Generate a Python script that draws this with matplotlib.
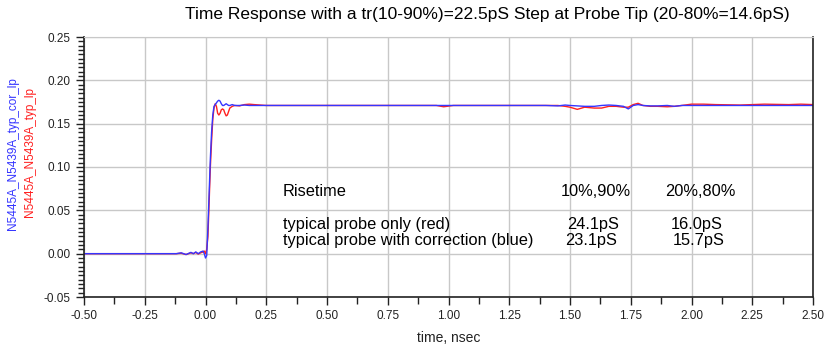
import matplotlib
matplotlib.use('Agg')
import matplotlib.pyplot as plt
from matplotlib.ticker import MultipleLocator

# time axis (nsec) shared by both traces
t_ns = [-0.50, -0.20, -0.12, -0.10, -0.08, -0.06, -0.05, -0.04, -0.03, -0.02, -0.01, -0.005,
        0.0, 0.005, 0.01, 0.015, 0.02, 0.025, 0.03, 0.035, 0.04, 0.045, 0.05, 0.055, 0.06,
        0.065, 0.07, 0.075, 0.08, 0.085, 0.09, 0.095, 0.10, 0.11, 0.12, 0.14, 0.16, 0.18,
        0.20, 0.25, 0.30, 0.60, 0.95, 0.98, 1.02, 1.05, 1.40, 1.45, 1.48, 1.50, 1.53, 1.56,
        1.60, 1.63, 1.66, 1.69, 1.72, 1.74, 1.76, 1.78, 1.80, 1.83, 1.86, 1.90, 1.93, 1.96,
        2.00, 2.05, 2.10, 2.20, 2.30, 2.40, 2.45, 2.50]

# N5445A_N5439A_typ_lp (red)
typ_lp = [0.0, 0.0, 0.0, 0.0005, -0.001, 0.001, 0.0, 0.0015, -0.0005, 0.001, 0.002, 0.003,
          0.0, 0.005, 0.02, 0.06, 0.10, 0.13, 0.155, 0.168, 0.173, 0.170, 0.162, 0.160, 0.162,
          0.166, 0.167, 0.166, 0.162, 0.159, 0.160, 0.164, 0.168, 0.170, 0.171, 0.1705, 0.172, 0.1725,
          0.172, 0.171, 0.171, 0.171, 0.171, 0.1695, 0.171, 0.171, 0.171, 0.171, 0.170, 0.169,
          0.1665, 0.169, 0.168, 0.168, 0.170, 0.170, 0.169, 0.169, 0.172, 0.1735, 0.171, 0.170,
          0.170, 0.1695, 0.170, 0.171, 0.1725, 0.1725, 0.172, 0.1715, 0.1725, 0.172, 0.1725, 0.172]

# N5445A_N5439A_typ_cor_lp (blue)
typ_cor_lp = [0.0, 0.0, 0.0, 0.001, -0.001, 0.0015, 0.0, 0.002, 0.0, 0.002, 0.003, 0.0,
              -0.005, -0.002, 0.03, 0.07, 0.11, 0.14, 0.16, 0.17, 0.172, 0.174, 0.176, 0.177, 0.176,
              0.173, 0.171, 0.171, 0.172, 0.173, 0.172, 0.171, 0.171, 0.172, 0.171, 0.171, 0.1715, 0.171,
              0.171, 0.171, 0.171, 0.171, 0.171, 0.171, 0.171, 0.171, 0.171, 0.1705, 0.1715, 0.171,
              0.1705, 0.170, 0.170, 0.171, 0.1715, 0.171, 0.170, 0.167, 0.171, 0.172, 0.171, 0.1705,
              0.1705, 0.171, 0.170, 0.171, 0.171, 0.171, 0.171, 0.171, 0.171, 0.171, 0.171, 0.171]

table_rows = ['Risetime', 'typical probe only (red)', 'typical probe with correction (blue)']
col_10_90 = ['10%,90%', '24.1pS', '23.1pS']
col_20_80 = ['20%,80%', '16.0pS', '15.7pS']

RED = '#ff2020'
BLUE = '#3535ff'
narrow = ['Liberation Sans Narrow', 'Liberation Sans', 'DejaVu Sans']
sans = ['Liberation Sans', 'DejaVu Sans']

fig = plt.figure(figsize=(8.25, 3.47), dpi=100)
ax = fig.add_axes([84/825, 50/347, 729/825, 260/347])

ax.plot(t_ns, typ_lp, color=RED, lw=1.0)
ax.plot(t_ns, typ_cor_lp, color=BLUE, lw=1.0)

ax.set_xlim(-0.5, 2.5)
ax.set_ylim(-0.05, 0.25)
ax.xaxis.set_major_locator(MultipleLocator(0.25))
ax.xaxis.set_minor_locator(MultipleLocator(0.125))
ax.yaxis.set_major_locator(MultipleLocator(0.05))
ax.yaxis.set_minor_locator(MultipleLocator(0.005))
ax.grid(True, which='major', color='#c8c8c8', lw=1.0)
ax.set_axisbelow(True)

ax.tick_params(which='major', direction='out', length=6, width=1, colors='#222222', labelsize=8.5)
ax.tick_params(axis='x', which='minor', direction='out', length=5, width=1, colors='#222222')
ax.tick_params(axis='y', which='minor', direction='out', length=4, width=1, colors='#222222')
ax.set_xticklabels([f'{v:.2f}' for v in ax.get_xticks()], family=narrow, color='#222222')
ax.set_yticklabels([f'{v:.2f}' for v in ax.get_yticks()], family=narrow, color='#222222')

for s in ['left', 'bottom', 'right']:
    ax.spines[s].set_color('#222222')
    ax.spines[s].set_linewidth(1.2)
ax.spines['top'].set_color('#c8c8c8')

ax.set_xlabel('time, nsec', family=narrow, fontsize=10, color='#222222', labelpad=6)

fig.text(487/825, 1 - 15/347, 'Time Response with a tr(10-90%)=22.5pS Step at Probe Tip (20-80%=14.6pS)',
         family=sans, fontsize=12.5, ha='center', va='center')

fig.text(13/825, 1 - 154/347, 'N5445A_N5439A_typ_cor_lp', color=BLUE, family=sans, fontsize=8.5,
         rotation=90, ha='center', va='center')
fig.text(30/825, 1 - 152/347, 'N5445A_N5439A_typ_lp', color=RED, family=sans, fontsize=8.5,
         rotation=90, ha='center', va='center')

row_y = [0.0714, 0.0334, 0.015]
x_10_90 = [1.607, 1.595, 1.586]
x_20_80 = [2.035, 2.02, 2.03]
for i, txt in enumerate(table_rows):
    ax.text(0.318, row_y[i], txt, family=sans, fontsize=11.8, va='center', ha='left')
    ax.text(x_10_90[i], row_y[i], col_10_90[i], family=sans, fontsize=11.8, va='center', ha='center')
    ax.text(x_20_80[i], row_y[i], col_20_80[i], family=sans, fontsize=11.8, va='center', ha='center')

fig.savefig('out.png', dpi=100)
